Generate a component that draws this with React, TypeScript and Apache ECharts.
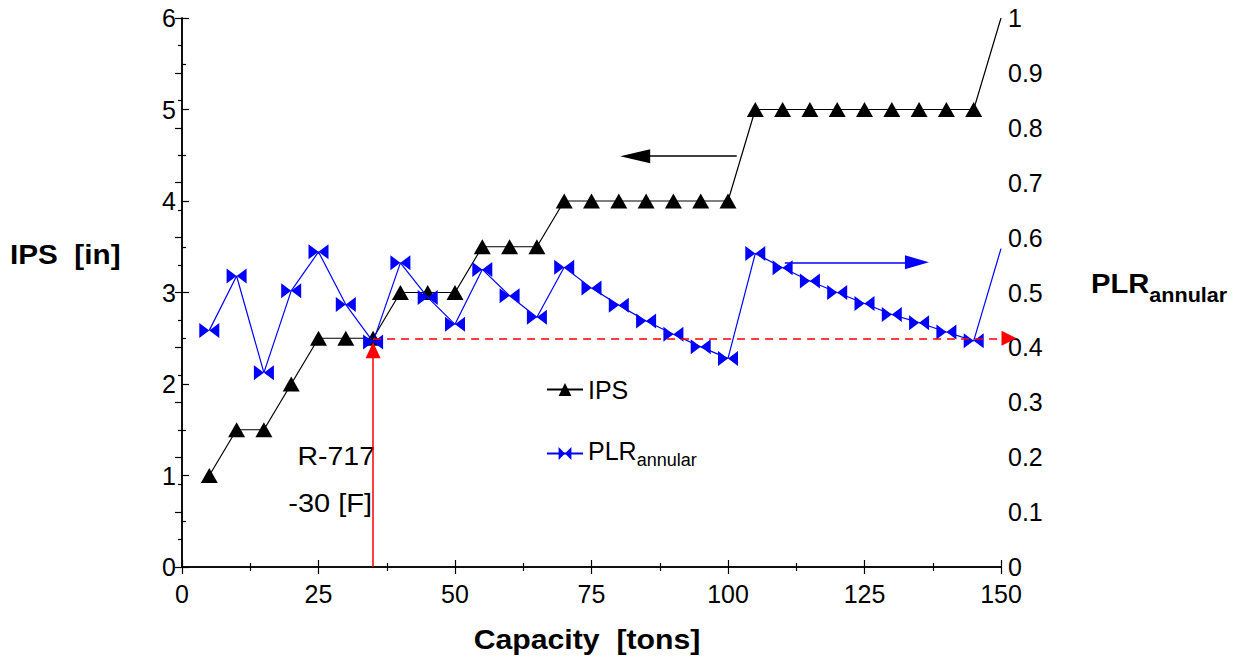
import React, { useEffect, useRef } from "react";
import * as echarts from "echarts";

// ---- data ----
const capacity = [5, 10, 15, 20, 25, 30, 35, 40, 45, 50, 55, 60, 65, 70, 75, 80, 85, 90, 95, 100, 105, 110, 115, 120, 125, 130, 135, 140, 145, 150];
const ips = [1, 1.5, 1.5, 2, 2.5, 2.5, 2.5, 3, 3, 3, 3.5, 3.5, 3.5, 4, 4, 4, 4, 4, 4, 4, 5, 5, 5, 5, 5, 5, 5, 5, 5, 6];
const plr = [0.431, 0.53, 0.354, 0.503, 0.574, 0.478, 0.41, 0.554, 0.491, 0.442, 0.542, 0.494, 0.455, 0.546, 0.508, 0.477, 0.448, 0.424, 0.401, 0.38, 0.571, 0.545, 0.521, 0.5, 0.48, 0.46, 0.445, 0.428, 0.412, 0.58];
const xTicks = { min: 0, max: 150, interval: 25 };
const ipsTicks = { min: 0, max: 6, interval: 1 };
const plrTicks = { min: 0, max: 1, interval: 0.1 };
// annotations (data coordinates)
const selectedCapacity = 35;
const selectedIps = 2.5;
const ipsArrow = { from: [101.6, 4.49], to: [83.0, 4.49] };
const plrArrow = { from: [110.4, 0.555], to: [134.6, 0.555] };
const annotationText = ["R-717", "-30 [F]"];

const FONT = "'Liberation Sans', Arial, sans-serif";
const BOWTIE = "path://M0,0L10,6L0,12ZM20,0L10,6L20,12Z";

function mkAxisParts() {
  return {
    axisLine: { show: true, lineStyle: { color: "#000", width: 1.5 } },
    axisTick: { show: true, inside: true, length: 7, lineStyle: { color: "#000", width: 1.2 } },
    minorTick: { show: true, splitNumber: 2, length: 4, lineStyle: { color: "#000", width: 1.2 } },
    splitLine: { show: false },
  };
}

export default function App() {
  const ref = useRef<HTMLDivElement>(null);
  useEffect(() => {
    if (!ref.current) return;
    const chart = echarts.init(ref.current, null, { renderer: "svg" });
    const label = () => ({ color: "#000", fontSize: 25, fontFamily: FONT });

    const ipsData = capacity.map((c, i) =>
      i === capacity.length - 1 ? { value: [c, ips[i]], symbol: "none" } : [c, ips[i]]
    );
    const plrData = capacity.map((c, i) =>
      i === capacity.length - 1 ? { value: [c, plr[i]], symbol: "none" } : [c, plr[i]]
    );

    chart.setOption({
      animation: false,
      grid: { left: 182, top: 18, right: 240, bottom: 95 },
      xAxis: [
        {
          type: "value", position: "bottom", ...xTicks, ...mkAxisParts(),
          axisLabel: { ...label(), margin: 14 },
        },
        {
          type: "value", position: "top", ...xTicks, ...mkAxisParts(),
          axisLabel: { show: false },
        },
      ],
      yAxis: [
        {
          type: "value", position: "left", ...ipsTicks, ...mkAxisParts(),
          axisLabel: { ...label(), margin: 6 },
        },
        {
          type: "value", position: "right", ...plrTicks, ...mkAxisParts(),
          axisLabel: { ...label(), margin: 7, formatter: (v: number) => String(Math.round(v * 10) / 10) },
        },
      ],
      legend: {
        orient: "vertical",
        left: 541,
        top: 372,
        itemWidth: 36,
        itemHeight: 16,
        itemGap: 36,
        data: ["IPS", "PLR"],
        textStyle: {
          color: "#000", fontSize: 25, fontFamily: FONT,
          rich: {
            a: { fontSize: 25, fontFamily: FONT, color: "#000", lineHeight: 26, verticalAlign: "top" },
            b: { fontSize: 18, fontFamily: FONT, color: "#000", lineHeight: 31, verticalAlign: "bottom" },
          },
        },
        formatter: (n: string) => (n === "PLR" ? "{a|PLR}{b|annular}" : n),
      },
      series: [
        {
          name: "PLR",
          type: "line",
          xAxisIndex: 0,
          yAxisIndex: 1,
          data: plrData,
          symbol: BOWTIE,
          symbolSize: [20, 15],
          itemStyle: { color: "#0000ff" },
          lineStyle: { color: "#0000ff", width: 1.2 },
          markLine: {
            silent: true,
            label: { show: false },
            emphasis: { disabled: true },
            data: [
              [
                { coord: plrArrow.from, symbol: "none" },
                { coord: plrArrow.to, symbol: "triangle", symbolSize: [14, 24] },
              ],
            ],
            lineStyle: { color: "#0000ff", width: 1.5, type: "solid" },
            itemStyle: { color: "#0000ff" },
          },
          z: 3,
        },
        {
          name: "IPS",
          type: "line",
          xAxisIndex: 0,
          yAxisIndex: 0,
          data: ipsData,
          symbol: "triangle",
          symbolSize: [17, 15],
          itemStyle: { color: "#000" },
          lineStyle: { color: "#000", width: 1.2 },
          markLine: {
            silent: true,
            label: { show: false },
            emphasis: { disabled: true },
            data: [
              [
                { coord: ipsArrow.from, symbol: "none", lineStyle: { color: "#000", width: 1.5, type: "solid" } },
                { coord: ipsArrow.to, symbol: "triangle", symbolSize: [14, 30], itemStyle: { color: "#000" } },
              ],
              [
                { coord: [selectedCapacity, 0], symbol: "none", lineStyle: { color: "#ff0000", width: 1.5, type: "solid" } },
                { coord: [selectedCapacity, 2.37], symbol: "triangle", symbolSize: [15, 16], itemStyle: { color: "#ff0000" } },
              ],
              [
                { coord: [selectedCapacity, selectedIps], symbol: "none", lineStyle: { color: "#ff0000", width: 1.5, type: [8, 6] } },
                { coord: [150, selectedIps], symbol: "none" },
              ],
            ],
          },
          markPoint: {
            silent: true,
            label: { show: false },
            data: [
              {
                coord: [150, selectedIps],
                symbol: "triangle",
                symbolRotate: -90,
                symbolSize: [15, 15],
                symbolOffset: [8, 0],
                itemStyle: { color: "#ff0000" },
              },
            ],
          },
          z: 2,
        },
      ],
      graphic: [
        {
          type: "text", x: 10, y: 254, scaleX: 1.1,
          style: { text: "IPS  [in]", fontSize: 27, fontWeight: "bold", fontFamily: FONT, fill: "#000", verticalAlign: "middle" },
        },
        {
          type: "text", x: 1091, y: 270, scaleX: 1.08,
          style: {
            text: "{a|PLR}{b|annular}",
            rich: {
              a: { fontSize: 27, fontWeight: "bold", fontFamily: FONT, fill: "#000", lineHeight: 28, verticalAlign: "top" },
              b: { fontSize: 20, fontWeight: "bold", fontFamily: FONT, fill: "#000", lineHeight: 35, verticalAlign: "bottom" },
            },
          },
        },
        {
          type: "text", x: 587, y: 640, scaleX: 1.12,
          style: { text: "Capacity  [tons]", fontSize: 27, fontWeight: "bold", fontFamily: FONT, fill: "#000", align: "center", verticalAlign: "middle" },
        },
        {
          type: "text", x: 375, y: 457, scaleX: 1.14,
          style: { text: annotationText[0], fontSize: 25, fontFamily: FONT, fill: "#000", align: "right", verticalAlign: "middle" },
        },
        {
          type: "text", x: 372, y: 503, scaleX: 1.16,
          style: { text: annotationText[1], fontSize: 25, fontFamily: FONT, fill: "#000", align: "right", verticalAlign: "middle" },
        },
      ],
    });
    return () => chart.dispose();
  }, []);
  return (
    <div
      ref={ref}
      style={{ position: "fixed", left: 0, top: 0, width: 1241, height: 662, background: "#fff" }}
    />
  );
}
